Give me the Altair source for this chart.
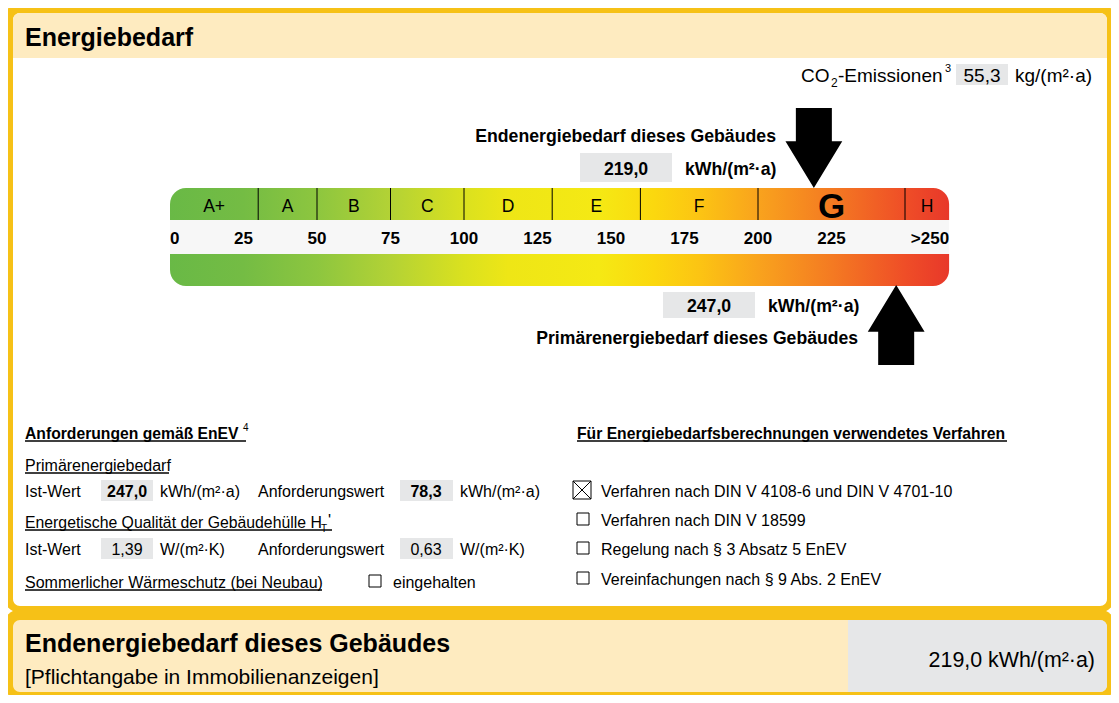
import altair as alt
import pandas as pd

# ---------------- data ----------------
classes = ["A+", "A", "B", "C", "D", "E", "F", "G", "H"]
class_lo = [0, 30, 50, 75, 100, 130, 160, 200, 250]
class_hi = [30, 50, 75, 100, 130, 160, 200, 250, 265]
tick_values = [0, 25, 50, 75, 100, 125, 150, 175, 200, 225, 250]
tick_labels = ["0", "25", "50", "75", "100", "125", "150", "175", "200", "225", ">250"]
end_energy = 219.0
primary_energy = 247.0
co2_emissions = 55.3
req_primary_actual = 247.0
req_primary_limit = 78.3
req_ht_actual = 1.39
req_ht_limit = 0.63
procedures = [
    "Verfahren nach DIN V 4108-6 und DIN V 4701-10",
    "Verfahren nach DIN V 18599",
    "Regelung nach § 3 Absatz 5 EnEV",
    "Vereinfachungen nach § 9 Abs. 2 EnEV",
]
procedure_checked = [True, False, False, False]
unit_e = "kWh/(m²·a)"
unit_u = "W/(m²·K)"


def de(v, d=1):
    return f"{v:.{d}f}".replace(".", ",")


# ---------------- layout / style ----------------
FONT = "Liberation Sans, Arial, Helvetica, sans-serif"
YELLOW = "#F6C117"
CREAM = "#FEEBC0"
GRAY = "#E6E7E8"
REF_X = [3, 1116]
REF_Y = [3, 700]
W, H = 1113, 697
BAR_X0, PX_PER_KWH, BAR_END = 170, 2.94, 265
TDY = 1.5

LX = alt.Scale(domain=REF_X, nice=False, zero=False)
LY = alt.Scale(domain=REF_Y, nice=False, zero=False, reverse=True)
EX = alt.Scale(domain=[(REF_X[0] - BAR_X0) / PX_PER_KWH, (REF_X[1] - BAR_X0) / PX_PER_KWH],
               nice=False, zero=False)

GRAD_STOPS = [
    (0.00, "#69B946"), (0.094, "#74BC44"), (0.189, "#8DC63F"), (0.283, "#B3D235"),
    (0.377, "#DAE11F"), (0.434, "#EEE616"), (0.55, "#F5E914"), (0.62, "#FBD80E"),
    (0.68, "#FCC413"), (0.755, "#F9A31D"), (0.85, "#F47A22"), (0.943, "#EF4E27"),
    (1.00, "#E8382A"),
]
GRADIENT = {"gradient": "linear", "x1": 0, "x2": 1, "y1": 0, "y2": 0,
            "stops": [{"offset": o, "color": c} for o, c in GRAD_STOPS]}


def df(rows, cols):
    return pd.DataFrame(rows, columns=cols)


def rects(data, xs=LX, **mk):
    return alt.Chart(data).mark_rect(**mk).encode(
        x=alt.X("x:Q", scale=xs, axis=None), x2="x2:Q",
        y=alt.Y("y:Q", scale=LY, axis=None), y2="y2:Q")


def rules(data, xs=LX, **mk):
    return alt.Chart(data).mark_rule(**mk).encode(
        x=alt.X("x:Q", scale=xs, axis=None), x2="x2:Q",
        y=alt.Y("y:Q", scale=LY, axis=None), y2="y2:Q")


def texts(data, xs=LX, weight="normal", align="left"):
    return alt.Chart(data).mark_text(font=FONT, fontWeight=weight, align=align, dy=TDY,
                                     baseline="middle", color="#000").encode(
        x=alt.X("x:Q", scale=xs, axis=None),
        y=alt.Y("y:Q", scale=LY, axis=None),
        text="t:N",
        size=alt.Size("s:Q", scale=None))


R = ["x", "x2", "y", "y2"]
T = ["t", "x", "y", "s"]
layers = []

# panels
layers.append(rects(df([[3, 1116, 3, 613], [3, 1116, 609, 700]], R), fill=YELLOW, cornerRadius=18))
layers.append(rects(df([[13, 1107, 13, 606]], R), fill="white", cornerRadius=7))
layers.append(rects(df([[13, 1107, 13, 58]], R), fill=CREAM,
                    cornerRadiusTopLeft=7, cornerRadiusTopRight=7))
layers.append(rects(df([[13, 1107, 620, 692]], R), fill=CREAM, cornerRadius=7))
layers.append(rects(df([[848, 1107, 620, 692]], R), fill=GRAY,
                    cornerRadiusTopRight=7, cornerRadiusBottomRight=7))

# gray value boxes
layers.append(rects(df([[956, 1008, 64, 85], [580, 672, 153, 182], [663, 755, 292, 318],
                        [101, 153, 480, 501], [400, 453, 480, 501],
                        [101, 153, 538, 559], [400, 453, 538, 559]], R), fill=GRAY))

# energy scale strips (kWh units)
layers.append(rects(df([[0, BAR_END, 220, 254]], R), xs=EX, fill="#F7F7F7"))
layers.append(rects(df([[0, BAR_END, 188, 220]], R), xs=EX, fill=GRADIENT,
                    cornerRadiusTopLeft=16, cornerRadiusTopRight=16))
layers.append(rects(df([[0, BAR_END, 254, 286]], R), xs=EX, fill=GRADIENT,
                    cornerRadiusBottomLeft=16, cornerRadiusBottomRight=16))
div = pd.DataFrame({"x": class_lo[1:], "x2": class_lo[1:], "y": 188, "y2": 220})
layers.append(rules(div, xs=EX, color="#000", strokeWidth=1))

# class labels
cl = pd.DataFrame({"t": classes, "x": [(a + b) / 2 for a, b in zip(class_lo, class_hi)],
                   "y": 205, "s": 17.5})
active = [lo <= end_energy < hi for lo, hi in zip(class_lo, class_hi)]
layers.append(texts(cl[[not a for a in active]], xs=EX, align="center"))
cla = cl[active].copy()
cla["s"] = 35
layers.append(texts(cla, xs=EX, weight="bold", align="center"))

# tick labels
tk = pd.DataFrame({"t": tick_labels, "x": tick_values, "y": 237, "s": 17})
layers.append(texts(tk.iloc[1:-1], xs=EX, weight="bold", align="center"))
layers.append(texts(tk.iloc[:1], xs=EX, weight="bold", align="left"))
last = tk.iloc[-1:].copy()
last["x"] = BAR_END
layers.append(texts(last, xs=EX, weight="bold", align="right"))

# arrows
DOWN = "M-0.45,-1L0.45,-1L0.45,-0.17L0.71,-0.17L0,1L-0.71,-0.17L-0.45,-0.17Z"
UP = "M-0.45,1L0.45,1L0.45,0.17L0.71,0.17L0,-1L-0.71,0.17L-0.45,0.17Z"
asize = 80 ** 2
for shape, val, yc in [(DOWN, end_energy, 148), (UP, primary_energy, 325)]:
    layers.append(alt.Chart(pd.DataFrame({"v": [val], "y": [yc]})).mark_point(
        shape=shape, filled=True, color="#000", opacity=1, size=asize, strokeWidth=0).encode(
        x=alt.X("v:Q", scale=EX, axis=None), y=alt.Y("y:Q", scale=LY, axis=None)))

# underlines
layers.append(rules(df([[25, 246, 441, 441], [577, 1007, 441, 441], [25, 169, 473, 473],
                        [25, 332, 530, 530], [25, 322, 590, 590]], R), color="#000", strokeWidth=1.3))

# checkboxes
boxes = [[369, 381, 575, 587]]
ys = [490, 519, 548, 578]
for yy, chk in zip(ys, procedure_checked):
    if chk:
        boxes.append([573, 591, yy - 9, yy + 9])
    else:
        boxes.append([577, 589, yy - 6, yy + 6])
layers.append(rects(df(boxes, R), fill="white", stroke="#000", strokeWidth=1))
crosses = []
for yy, chk in zip(ys, procedure_checked):
    if chk:
        crosses += [[573, 591, yy - 9, yy + 9], [573, 591, yy + 9, yy - 9]]
layers.append(rules(df(crosses, R), color="#000", strokeWidth=1))

# texts
bold_left = [
    ("Energiebedarf", 25, 36, 25),
    ("Anforderungen gemäß EnEV", 25, 432, 15.7),
    ("Für Energiebedarfsberechnungen verwendetes Verfahren", 577, 432, 15.7),
    ("Endenergiebedarf dieses Gebäudes", 25, 642, 25),
    (unit_e, 685, 168, 17.7),
    (unit_e, 768, 305, 17.7),
]
bold_right = [
    ("Endenergiebedarf dieses Gebäudes", 776, 135, 17.7),
    ("Primärenergiebedarf dieses Gebäudes", 858, 337, 17.6),
]
bold_center = [
    (de(end_energy), 626, 168, 17.7),
    (de(primary_energy), 709, 305, 17.7),
    (de(req_primary_actual), 127, 490, 16),
    (de(req_primary_limit), 426, 490, 16),
]
reg_left = [
    ("CO", 801, 74, 19), ("-Emissionen", 838, 74, 19), ("kg/(m²·a)", 1015, 74, 19),
    ("Primärenergiebedarf", 25, 464, 16),
    ("Ist-Wert", 25, 490, 16), (unit_e, 160, 490, 16),
    ("Anforderungswert", 258, 490, 16), (unit_e, 460, 490, 16),
    ("Energetische Qualität der Gebäudehülle H", 25, 521, 15.8), ("'", 328, 519, 16),
    ("Ist-Wert", 25, 548, 16), (unit_u, 160, 548, 16),
    ("Anforderungswert", 258, 548, 16), (unit_u, 460, 548, 16),
    ("Sommerlicher Wärmeschutz (bei Neubau)", 25, 581, 16),
    ("eingehalten", 393, 581, 16),
    ("[Pflichtangabe in Immobilienanzeigen]", 25, 676, 21),
] + [(p, 601, yy, 16) for p, yy in zip(procedures, ys)]
reg_center = [
    (de(req_ht_actual, 2), 127, 548, 16),
    (de(req_ht_limit, 2), 426, 548, 16),
    (de(co2_emissions), 982, 74, 19),
]
reg_right = [(f"{de(end_energy)} {unit_e}", 1095, 659, 21.4)]
small = [("2", 831, 81, 12), ("3", 945, 67, 11), ("4", 243, 426, 10), ("T", 321, 527, 10)]

layers.append(texts(df(bold_left, T), weight="bold"))
layers.append(texts(df(bold_right, T), weight="bold", align="right"))
layers.append(texts(df(bold_center, T), weight="bold", align="center"))
layers.append(texts(df(reg_left, T)))
layers.append(texts(df(reg_center, T), align="center"))
layers.append(texts(df(reg_right, T), align="right"))
layers.append(texts(df(small, T)))

chart = alt.layer(*layers).resolve_scale(x="independent", y="independent").properties(
    width=W, height=H,
    padding={"left": -5, "top": -5, "right": -5, "bottom": -5},
    autosize=alt.AutoSizeParams(type="none"), background="white"
).configure_view(stroke=None)

chart.save("out.html", embed_options={"renderer": "svg", "actions": False})
